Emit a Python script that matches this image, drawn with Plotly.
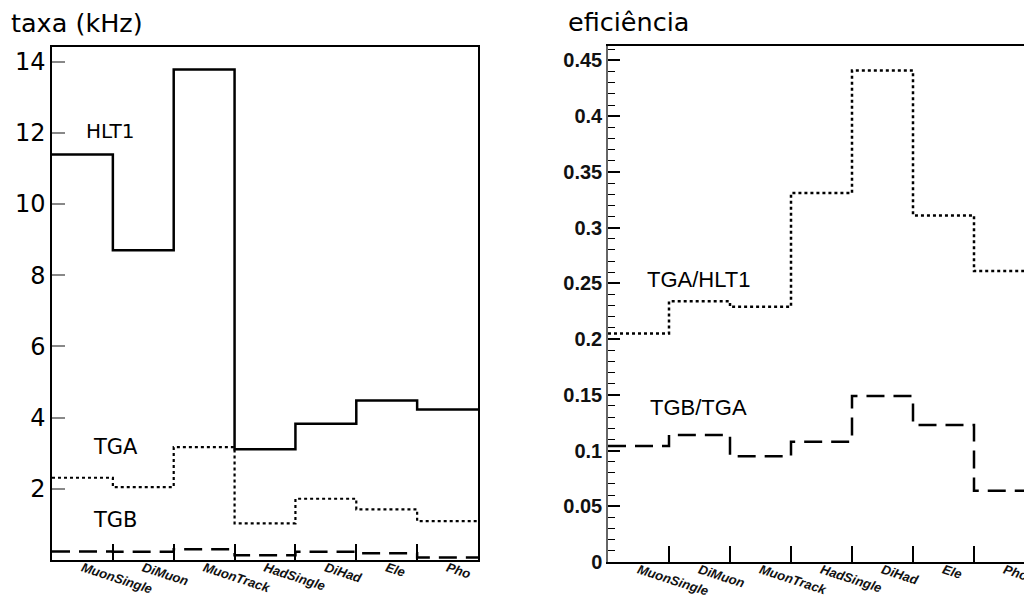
import plotly.graph_objects as go

# ---------------- data ----------------
categories = ["MuonSingle", "DiMuon", "MuonTrack", "HadSingle", "DiHad", "Ele", "Pho"]
hlt1 = [11.39, 8.70, 13.78, 3.11, 3.83, 4.48, 4.23]
tga = [2.31, 2.05, 3.17, 1.03, 1.72, 1.42, 1.09]
tgb = [0.24, 0.23, 0.30, 0.13, 0.23, 0.19, 0.07]
tga_hlt1 = [0.205, 0.234, 0.229, 0.331, 0.441, 0.311, 0.261]
tgb_tga = [0.104, 0.114, 0.095, 0.108, 0.149, 0.123, 0.064]

left_yticks = [2, 4, 6, 8, 10, 12, 14]
right_yticks = [0, 0.05, 0.1, 0.15, 0.2, 0.25, 0.3, 0.35, 0.4, 0.45]
right_yticktext = ["0", "0.05", "0.1", "0.15", "0.2", "0.25", "0.3", "0.35", "0.4", "0.45"]

W, H = 1024, 600
n = len(categories)
edges = list(range(n + 1))
centers = [i + 0.5 for i in range(n)]
inner_edges = list(range(1, n))


def step(vals):
    return vals + [vals[-1]]


def px(x):
    return x / W


def py(y):
    return 1 - y / H


fig = go.Figure()

# left panel
fig.add_trace(go.Scatter(x=edges, y=step(hlt1), mode="lines", line_shape="hv",
                         line=dict(color="black", width=2.5), xaxis="x", yaxis="y",
                         showlegend=False, hoverinfo="skip"))
fig.add_trace(go.Scatter(x=edges, y=step(tga), mode="lines", line_shape="hv",
                         line=dict(color="black", width=2.2, dash="3px,3px"), xaxis="x", yaxis="y",
                         showlegend=False, hoverinfo="skip"))
fig.add_trace(go.Scatter(x=edges, y=step(tgb), mode="lines", line_shape="hv",
                         line=dict(color="black", width=2.5, dash="18px,9px"), xaxis="x", yaxis="y",
                         showlegend=False, hoverinfo="skip"))

# right panel
fig.add_trace(go.Scatter(x=edges, y=step(tga_hlt1), mode="lines", line_shape="hv",
                         line=dict(color="black", width=2.5, dash="3px,3px"), xaxis="x2", yaxis="y2",
                         showlegend=False, hoverinfo="skip"))
fig.add_trace(go.Scatter(x=edges, y=step(tgb_tga), mode="lines", line_shape="hv",
                         line=dict(color="black", width=2.5, dash="18px,9px"), xaxis="x2", yaxis="y2",
                         showlegend=False, hoverinfo="skip"))

xlabel_font = dict(family="Liberation Sans", size=13, color="#111", weight="bold", style="italic")

common_x = dict(
    tickmode="array", tickvals=centers, ticktext=categories, ticks="",
    tickangle=18, tickfont=xlabel_font, ticklabeloverflow="allow", automargin=False,
    ticklabelstandoff=-6,
    showline=True, linecolor="black", linewidth=1.5,
    showgrid=False, zeroline=False,
    minor=dict(tickmode="array", tickvals=inner_edges, ticks="inside", ticklen=16,
               tickwidth=1.5, tickcolor="black", showgrid=False),
)

fig.update_layout(
    width=W, height=H,
    margin=dict(l=0, r=0, t=0, b=0, pad=0),
    paper_bgcolor="white", plot_bgcolor="white",
    showlegend=False,
    xaxis=dict(domain=[px(52), px(478)], range=[0, n], anchor="y", mirror=True, **common_x),
    yaxis=dict(domain=[py(560), py(46.7)], range=[0, 14.42], anchor="x", automargin=False,
               tickmode="array", tickvals=left_yticks,
               ticks="inside", ticklen=13, tickwidth=1.5, tickcolor="#888",
               tickfont=dict(family="DejaVu Sans", size=24, color="black"),
               showline=True, linecolor="black", linewidth=1.5, mirror=True,
               showgrid=False, zeroline=False),
    xaxis2=dict(domain=[px(608), 1.0], range=[0, (1024 - 608) / 61.0], anchor="y2", mirror=True,
                **common_x),
    yaxis2=dict(domain=[py(562), py(46)], range=[0, 0.463], anchor="x2", automargin=False,
                tickmode="array", tickvals=right_yticks, ticktext=right_yticktext,
                ticks="inside", ticklen=12, tickwidth=1.5, tickcolor="black",
                minor=dict(dtick=0.01, tick0=0, ticks="inside", ticklen=7, tickwidth=1,
                           tickcolor="black", showgrid=False),
                tickfont=dict(family="Liberation Sans", size=20, color="#111", weight="bold"),
                showline=True, linecolor="#666", linewidth=1.5, mirror=False,
                showgrid=False, zeroline=False),
)

annots = [
    ("taxa (kHz)", 9, 23, "DejaVu Sans", 25.5),
    ("eficiência", 566, 22, "DejaVu Sans", 25.5),
    ("HLT1", 84, 131, "DejaVu Sans", 20),
    ("TGA", 91, 447, "DejaVu Sans", 21),
    ("TGB", 91, 520, "DejaVu Sans", 21),
    ("TGA/HLT1", 645, 279, "Liberation Sans", 22),
    ("TGB/TGA", 648, 407, "Liberation Sans", 22),
]
for text, x, y, fam, size in annots:
    fig.add_annotation(text=text, x=px(x), y=py(y), xref="paper", yref="paper",
                       xanchor="left", yanchor="middle", showarrow=False,
                       font=dict(family=fam, size=size, color="black"))

css_js = (
    "var s=document.createElement('style');"
    "s.innerHTML='html,body{margin:0;padding:0;overflow:hidden;width:1024px;height:600px;}';"
    "document.head.appendChild(s);"
)
fig.write_html("out.html", config={"displayModeBar": False}, post_script=css_js)
